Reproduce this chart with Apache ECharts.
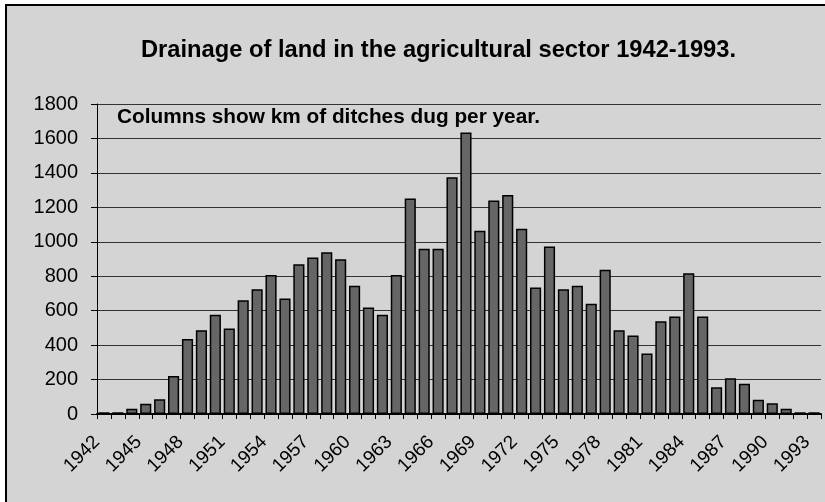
<!DOCTYPE html>
<html>
<head>
<meta charset="utf-8">
<script src="https://cdn.jsdelivr.net/npm/echarts@6/dist/echarts.min.js"></script>
<style>
  html, body { margin: 0; padding: 0; background: #ffffff; }
  #chart { width: 825px; height: 502px; }
</style>
</head>
<body>
<div id="chart"></div>
<script>
// Years 1942–1993
const years = [];
for (let y = 1942; y <= 1993; y++) years.push(String(y));

// km of ditches dug per year
const kmDug = [
  10, 10, 30, 60, 85, 220, 435, 487, 577, 496,
  661, 725, 807, 670, 870, 908, 939, 899, 744, 618,
  577, 807, 1252, 960, 960, 1374, 1635, 1064, 1240, 1271,
  1076, 734, 972, 725, 744, 640, 837, 487, 456, 352,
  539, 566, 817, 566, 155, 207, 176, 83, 62, 30,
  10, 10
];

const yTicks = { min: 0, max: 1800, step: 200 };

const titleText = 'Drainage of land in the agricultural sector 1942-1993.';
const noteText = 'Columns show km of ditches dug per year.';

const FONT = '"Liberation Sans", Arial, sans-serif';

const chart = echarts.init(document.getElementById('chart'), null, { renderer: 'canvas' });

chart.setOption({
  backgroundColor: '#ffffff',
  animation: false,
  graphic: [
    {
      type: 'rect',
      z: 0,
      shape: { x: 6, y: 5, width: 840, height: 520 },
      style: { fill: '#d4d4d4', stroke: '#000000', lineWidth: 2 }
    }
  ],
  title: [
    {
      text: titleText,
      left: 141,
      top: 38,
      padding: 0,
      textStyle: { fontFamily: FONT, fontWeight: 'bold', fontSize: 23.7, color: '#000000' }
    },
    {
      text: noteText,
      left: 117,
      top: 107,
      padding: 0,
      z: 10,
      textStyle: { fontFamily: FONT, fontWeight: 'bold', fontSize: 20.8, color: '#000000' }
    }
  ],
  grid: {
    left: 97,
    top: 104,
    right: 4,
    bottom: 88,
    show: true,
    backgroundColor: '#f2f2f2',
    borderColor: '#8c8c8c',
    borderWidth: 2
  },
  xAxis: {
    type: 'category',
    data: years,
    boundaryGap: true,
    axisLine: { show: true, lineStyle: { color: '#000000', width: 2 } },
    axisTick: { show: true, interval: 0, alignWithLabel: false, length: 5, lineStyle: { color: '#000000', width: 1 } },
    axisLabel: {
      interval: 2,
      rotate: 45,
      margin: 18,
      padding: [0, 10, 0, 0],
      fontFamily: FONT,
      fontSize: 19,
      color: '#000000'
    },
    splitLine: { show: false }
  },
  yAxis: {
    type: 'value',
    min: yTicks.min,
    max: yTicks.max,
    interval: yTicks.step,
    axisLine: { show: true, lineStyle: { color: '#000000', width: 1 } },
    axisTick: { show: true, inside: false, length: 6, lineStyle: { color: '#000000' } },
    axisLabel: {
      margin: 19,
      fontFamily: FONT,
      fontSize: 20,
      color: '#000000',
      formatter: (v) => String(v)
    },
    splitLine: { show: true, lineStyle: { color: '#333333', width: 1 } }
  },
  series: [
    {
      type: 'bar',
      data: kmDug,
      barCategoryGap: '20%',
      itemStyle: { color: '#666666', borderColor: '#000000', borderWidth: 1.5 }
    }
  ]
});
</script>
</body>
</html>
